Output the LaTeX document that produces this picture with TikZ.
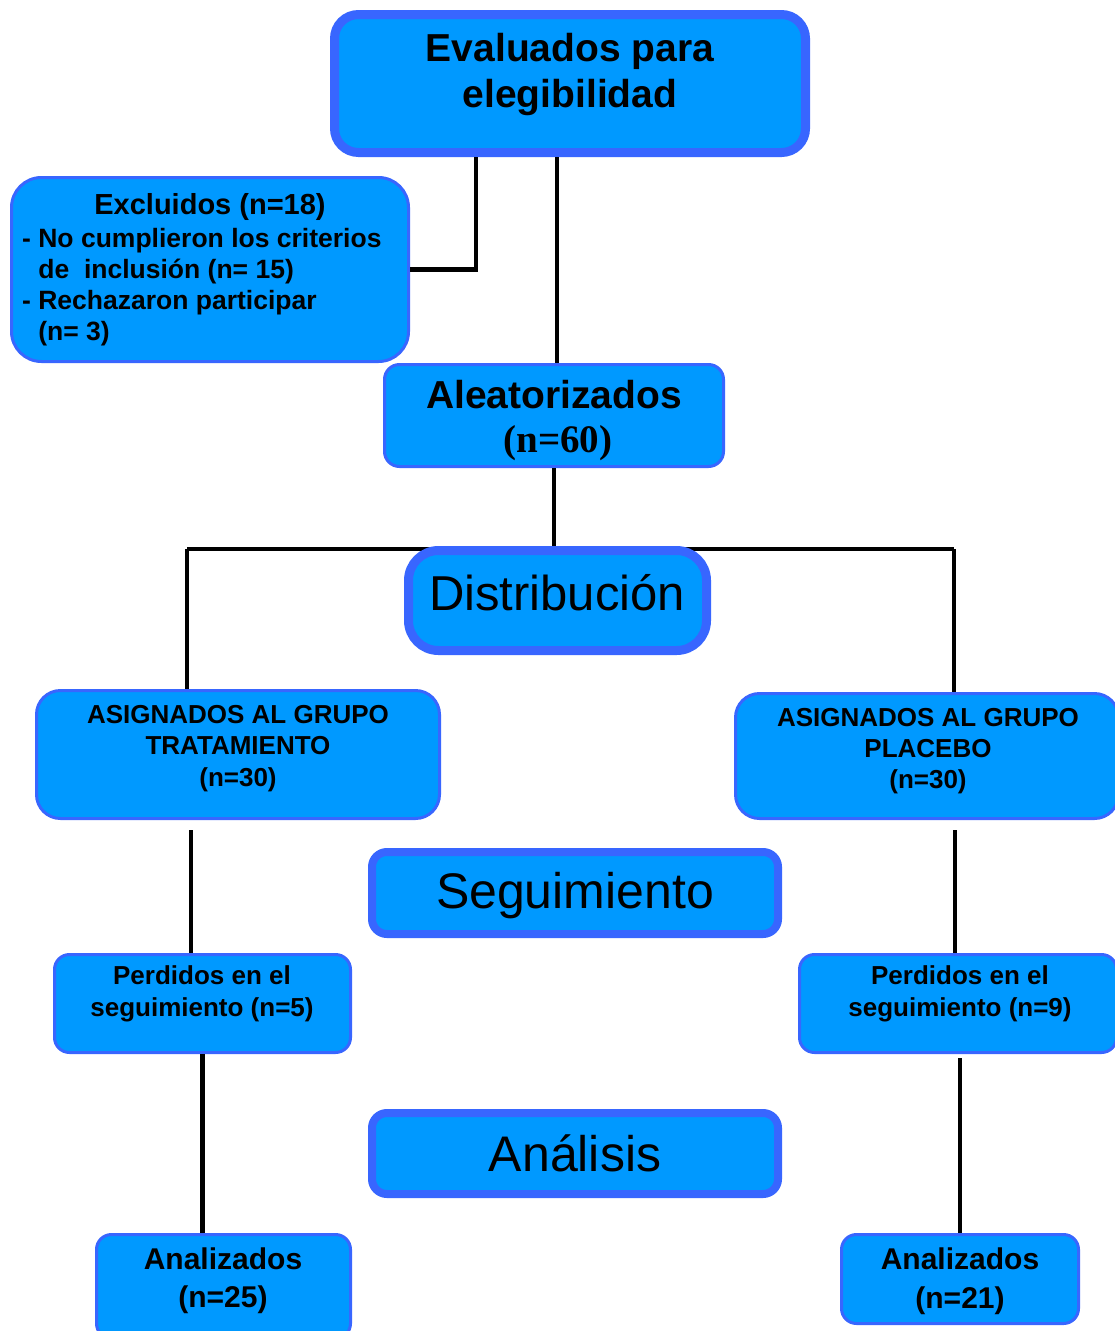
\documentclass[tikz,border=0pt]{standalone}
\usepackage{fontspec}
\setmainfont{Liberation Sans}
\newfontfamily\tnr{Liberation Serif}
\usetikzlibrary{calc}
\definecolor{boxfill}{RGB}{0,153,255}
\definecolor{boxline}{RGB}{56,102,255}
\begin{document}
\begin{tikzpicture}[x=1pt,y=-1pt,
  box/.style={draw=boxline,fill=boxfill,rectangle,inner sep=0pt,line width=3pt,rounded corners=15pt},
  thickbox/.style={box,line width=9pt},
  txt/.style={inner sep=0pt,align=center,text=black,font=\bfseries},
  conn/.style={draw=black,line width=4.5pt}]
\useasboundingbox (0,0) rectangle (1115,1331);
\fill[white] (0,0) rectangle (1115,1331);
% boxes
\node[thickbox,rounded corners=24pt,minimum width=471pt,minimum height=138pt] (eval) at (570,83.5) {};
\node[box,rounded corners=30pt,minimum width=397pt,minimum height=184pt] (excl) at (210,269.5) {};
\node[box,minimum width=339pt,minimum height=102pt] (aleat) at (554,415.5) {};
\node[box,rounded corners=24pt,minimum width=403pt,minimum height=128pt] (trat) at (238,754.5) {};
\node[box,rounded corners=24pt,minimum width=383pt,minimum height=125pt] (plac) at (927,756) {};
\node[box,minimum width=296pt,minimum height=98pt] (perdL) at (202.5,1003.5) {};
\node[box,minimum width=317pt,minimum height=98pt] (perdR) at (958,1003.5) {};
\node[box,minimum width=254pt,minimum height=104pt] (analL) at (223.5,1286.5) {};
\node[box,minimum width=237pt,minimum height=89pt] (analR) at (960,1279) {};
% connectors (behind stage boxes)
\coordinate (jl) at (187,549);
\coordinate (jr) at (954,549);
\coordinate (tl) at (191,830);
\coordinate (tr) at (955,830);
\coordinate (ea) at ($(eval.south)+(-13,0)$);
\draw[conn] ($(eval.south)+(-94,0)$) |- (excl.east);
\draw[conn] (ea) -- (ea |- aleat.north);
\draw[conn] (aleat.south) -- (aleat.south |- jl);
\draw[conn] (jl) -- (jr);
\draw[conn] (jl) -- (jl |- trat.north);
\draw[conn] (jr) -- (jr |- plac.north);
\draw[conn] (tl) -- (tl |- perdL.north);
\draw[conn] (tr) -- (tr |- perdR.north);
\draw[conn] (perdL.south) -- (perdL.south |- analL.north);
\draw[conn] ($(analR.north |- perdR.south)+(0,4)$) -- (analR.north);
% stage boxes
\node[thickbox,rounded corners=30pt,minimum width=298pt,minimum height=100pt] (distrib) at (557.5,600.5) {};
\node[box,line width=8pt,minimum width=406pt,minimum height=82pt] (seg) at (575,893) {};
\node[box,line width=8pt,minimum width=406pt,minimum height=81pt] (anal) at (575,1153.5) {};
% texts
\node[txt,font=\bfseries\fontsize{39}{46}\selectfont] (evalt) at (570,74) {Evaluados para\\elegibilidad};
\node[txt,font=\bfseries\fontsize{29}{34}\selectfont] (exclt) at (210,207) {Excluidos (n=18)};
\node[txt,align=left,anchor=west,font=\bfseries\fontsize{26.5}{31}\selectfont] (excli) at (22,287.5)
  {- No cumplieron los criterios\\\hphantom{-}\ de\ \ inclusión (n= 15)\\- Rechazaron participar\\\hphantom{-}\ (n= 3)};
\node[txt,font=\bfseries\fontsize{39}{46}\selectfont] (aleatt) at (554,395) {Aleatorizados};
\node[txt,font=\tnr\bfseries\fontsize{39}{46}\selectfont] (aleatn) at (558,443) {(n=60)};
\node[txt,font=\mdseries\fontsize{49}{56}\selectfont] (distribt) at (557,593) {Distribución};
\node[txt,font=\bfseries\fontsize{26}{31.5}\selectfont] (tratt) at (238,748.5) {ASIGNADOS AL GRUPO\\TRATAMIENTO\\(n=30)};
\node[txt,font=\bfseries\fontsize{26}{31}\selectfont] (platt) at (928,750.7) {ASIGNADOS AL GRUPO\\PLACEBO\\(n=30)};
\node[txt,font=\mdseries\fontsize{50}{56}\selectfont] (segt) at (575,896) {Seguimiento};
\node[txt,font=\bfseries\fontsize{26}{32}\selectfont] (perdLt) at (202,994) {Perdidos en el\\seguimiento (n=5)};
\node[txt,font=\bfseries\fontsize{26}{32}\selectfont] (perdRt) at (960,994) {Perdidos en el\\seguimiento (n=9)};
\node[txt,font=\mdseries\fontsize{50}{56}\selectfont] (analt) at (575,1153) {Análisis};
\node[txt,font=\bfseries\fontsize{30}{38}\selectfont] (analLt) at (223,1281) {Analizados\\(n=25)};
\node[txt,font=\bfseries\fontsize{30}{39}\selectfont] (analRt) at (960,1281.5) {Analizados\\(n=21)};
\end{tikzpicture}
\end{document}
